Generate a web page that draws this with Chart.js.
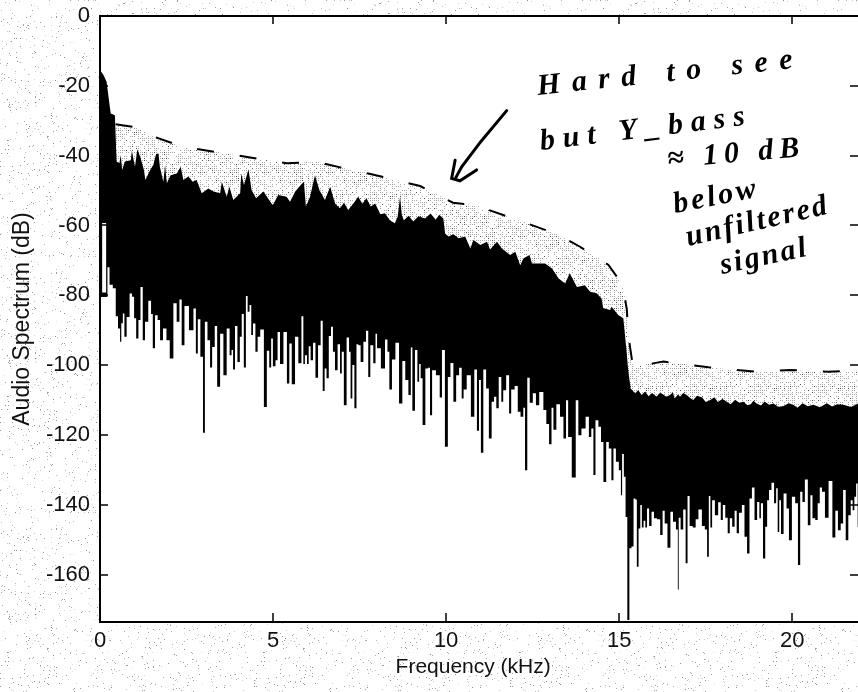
<!DOCTYPE html>
<html><head><meta charset="utf-8">
<style>html,body{margin:0;padding:0;background:#fff}canvas{display:block}</style>
<script src="https://cdn.jsdelivr.net/npm/chart.js@4"></script></head>
<body><div style="width:858px;height:692px"><canvas id="c" width="858" height="692"></canvas></div>
<script>
const xTicks=[0,5,10,15,20];
const yTicks=[0,-20,-40,-60,-80,-100,-120,-140,-160];
const xRange=[0,21.9];
const yRange=[-173.6,0];

// dashed outline: unfiltered signal
const dashFreq=[0.45,1,1.4,2.4,3.9,5.4,6.26,7.0,7.75,9.25,10.2,10.84,12.28,13.2,13.87,14.69,15.1,15.22,15.27,15.4,16.28,17.58,18.93,19.94,21.05,21.9];
const dashDb=[-31,-31.8,-34,-37.5,-39.8,-42.2,-41.8,-43.5,-45.1,-48.7,-53.5,-54.2,-59.2,-62.5,-66.1,-71.3,-77,-84,-92,-100.5,-99,-100.6,-101.9,-101.4,-101.9,-101.6];

// upper edge of the black spectrum
const topFreq=[0,0.10,0.19,0.27,0.31,0.43,0.48,0.56,0.60,0.64,0.72,0.89,0.92,1.01,1.08,1.16,1.27,1.31,1.45,1.54,1.62,1.69,1.73,1.83,1.88,1.93,2.04,2.22,2.33,2.41,2.55,2.68,2.79,2.94,3.13,3.28,3.47,3.52,3.66,3.74,3.85,4.05,4.08,4.16,4.29,4.38,4.51,4.72,4.99,5.15,5.39,5.49,5.64,5.80,5.89,5.95,6.07,6.21,6.34,6.50,6.65,6.79,6.93,7.05,7.17,7.3,7.46,7.58,7.70,7.82,7.95,8.1,8.23,8.38,8.52,8.60,8.67,8.72,8.78,8.92,9.05,9.2,9.39,9.55,9.7,9.8,9.92,9.97,10.07,10.21,10.36,10.55,10.70,10.79,10.99,11.18,11.27,11.47,11.61,11.85,12.0,12.14,12.24,12.41,12.48,12.67,12.86,13.06,13.25,13.44,13.57,13.78,14.01,14.16,14.35,14.49,14.54,14.74,14.78,14.98,15.12,15.2,15.26,15.33,15.46,15.55,15.65,15.75,15.85,15.95,16.08,16.18,16.25,16.36,16.47,16.55,16.6,16.7,16.76,16.85,16.95,17.05,17.14,17.25,17.4,17.5,17.63,17.75,17.85,17.98,18.11,18.22,18.35,18.47,18.59,18.7,18.8,18.88,18.97,19.1,19.2,19.33,19.46,19.6,19.75,19.9,20.03,20.15,20.3,20.45,20.61,20.8,21.0,21.15,21.3,21.48,21.7,21.9];
const topDb=[-15.5,-16.9,-18.8,-25,-27.9,-28.4,-41.7,-42.2,-39.8,-44.1,-41.7,-41.3,-38.6,-43.2,-38.2,-40.3,-44.1,-47,-44.1,-42.7,-39.5,-39.4,-43.2,-47.5,-42.7,-47.9,-45.6,-45.1,-43.2,-47,-46,-47.5,-47,-50.8,-49.4,-50.3,-50.8,-47.5,-51.8,-48.9,-52.7,-50.8,-45.1,-48.4,-43.9,-49.9,-52.2,-50.3,-54.2,-51.3,-51.8,-53.2,-50.3,-48.4,-47.5,-54.6,-51.8,-45.6,-49.9,-52.7,-48.9,-53.7,-55.1,-53.5,-55.6,-54,-51.8,-53.8,-52.2,-54.6,-53.7,-56.8,-56.5,-58.6,-59.4,-57.5,-51.8,-57,-58.5,-57.2,-58.9,-57.4,-58,-56.6,-58.4,-56.9,-58,-62.3,-63.2,-62.5,-63.7,-63.2,-66.6,-64.2,-65.6,-64.7,-66.9,-64.7,-66.6,-68.5,-67.5,-71.4,-69.4,-68.5,-70.9,-70.9,-70.9,-72.3,-75.2,-76.6,-73.7,-77.6,-77.1,-79,-79.4,-80.9,-83.7,-84.2,-83.3,-85.7,-86.6,-94.7,-101.4,-106.7,-108.1,-107.2,-108.6,-107.6,-108.9,-108,-109.1,-107.9,-108.3,-109.1,-108.6,-107.8,-109.6,-108.4,-109.1,-108,-108.6,-109.4,-110,-108.8,-109.3,-110.6,-110,-109.2,-110.6,-109.7,-110.5,-111.2,-109.9,-110.8,-110.5,-111.5,-111.2,-110.2,-111,-111.6,-110.4,-111.4,-111,-112,-111.7,-110.9,-111.4,-112.2,-110.9,-111.8,-111.4,-112.1,-110.9,-111.9,-111.2,-111.4,-112,-111];

// lower edge of the black spectrum, spikes included
const lowFreq=[0,0.19,0.24,0.31,0.43,0.48,0.56,0.60,0.63,0.69,0.72,0.82,0.89,0.96,1.01,1.08,1.14,1.20,1.27,1.33,1.46,1.49,1.56,1.62,1.71,1.76,1.88,1.96,2.07,2.17,2.26,2.33,2.39,2.49,2.65,2.75,2.79,2.86,2.94,3.01,3.05,3.16,3.20,3.28,3.35,3.42,3.52,3.61,3.71,3.78,3.82,3.87,3.93,4.01,4.07,4.12,4.19,4.24,4.29,4.35,4.39,4.45,4.53,4.58,4.68,4.79,4.85,4.93,4.96,5.03,5.11,5.15,5.25,5.35,5.45,5.49,5.59,5.68,5.78,
5.86,5.89,5.95,6.01,6.05,6.12,6.19,6.26,6.34,6.41,6.46,6.52,6.57,6.65,6.70,6.76,6.82,6.91,6.96,7.01,7.08,7.17,7.22,7.26,7.32,7.38,7.44,7.49,7.57,7.65,7.72,7.78,7.84,7.95,7.97,8.04,8.19,8.28,8.33,8.39,8.48,8.59,8.69,8.78,8.86,8.96,9.00,9.05,9.15,9.19,9.25,9.28,9.36,9.44,9.51,9.56,9.63,9.78,9.85,9.91,10.02,10.08,10.17,10.25,10.33,10.42,10.48,10.53,10.66,10.77,10.86,10.92,10.98,11.03,11.12,11.19,11.28,11.35,11.42,11.48,11.56,11.63,11.67,11.80,11.84,11.92,12.04,12.10,12.20,12.26,12.30,12.39,12.44,12.57,12.62,12.76,12.86,12.93,13.02,13.07,13.13,13.24,13.34,13.44,13.49,13.56,13.70,13.79,13.85,13.97,14.09,14.16,14.23,14.28,14.35,14.45,14.50,14.59,14.66,14.74,14.81,14.86,14.95,15.03,15.07,15.10,15.17,
15.20,15.27,15.32,15.39,15.44,15.49,15.53,15.59,15.63,15.68,15.73,15.78,15.83,15.90,15.97,16.04,16.14,16.23,16.28,16.35,16.44,16.52,16.59,16.69,16.70,16.74,16.81,16.89,16.95,17.00,17.07,17.18,17.24,17.34,17.44,17.51,17.57,17.61,17.66,17.71,17.82,17.90,17.97,18.02,18.11,18.16,18.23,18.30,18.37,18.42,18.50,18.59,18.65,18.74,18.79,18.88,18.94,19.03,19.07,19.12,19.19,19.25,19.30,19.36,19.44,19.51,19.56,19.60,19.65,19.70,19.80,19.87,19.94,20.04,20.13,20.20,20.26,20.33,20.40,20.50,20.55,20.62,20.71,20.76,20.83,20.89,21.00,21.10,21.22,21.27,21.37,21.43,21.51,21.58,21.66,21.72,21.77,21.82,21.87,21.91];
const lowDb=[-80.5,-80.5,-72,-77,-78,-86,-89.5,-93.3,-88,-85.2,-91.9,-86.2,-79.5,-80.4,-86.6,-92.4,-87.1,-77.6,-92.9,-87.6,-81.6,-85.4,-95.2,-85.7,-87.1,-92.9,-89.5,-92.9,-98.1,-82.3,-87.6,-81.2,-94.3,-83.1,-90,-83.8,-96.7,-86.9,-97.6,-119.4,-87.6,-92.9,-100.7,-94.8,-88.8,-106.2,-91,-102.9,-89.5,-97.2,-95.7,-101.3,-88.8,-99.1,-91.9,-85.4,-100.7,-80.2,-84.7,-82.8,-91.4,-88.1,-96.2,-91.9,-89.8,-112,-95.9,-100.7,-92.4,-100.3,-98.6,-90.5,-99.7,-90.5,-105.3,-93.8,-105.5,-91.9,-99.5,
-86,-99.7,-97.2,-99.7,-94.6,-98.6,-93.6,-103.6,-94.3,-87.3,-107.4,-101,-103.8,-91.7,-89,-96.2,-101.5,-94,-102.4,-96.2,-111.5,-92.1,-96.2,-109.6,-100,-112.4,-94,-94.3,-99.1,-93.3,-90.2,-103.4,-94.3,-99.5,-91,-95.2,-101,-92.7,-96.2,-107,-98.4,-93.6,-111,-98.8,-104.3,-108.6,-95,-113.1,-95.7,-104.8,-99.7,-103.8,-117.2,-101,-100.8,-114.4,-101.5,-102.9,-109.3,-95.7,-123.4,-103.4,-99.4,-110.5,-102.9,-100.8,-109.6,-107,-102.9,-114.8,-101.3,-118.8,-104.3,-125.1,-101.3,-106.7,-121,-110.5,-109.1,-112.4,-103.4,-110.5,-107.2,-102.9,-113.9,-107,-106,-113.4,-114.8,-112.2,-130.1,-103.6,-110.8,-108.1,-111.5,-107.7,-112.9,-116.9,-122.7,-112.2,-118.5,-111.2,-114.8,-121,-110.1,-120.6,-132.2,-110.1,-120.1,-118.2,-114.8,-120.6,-118.2,-131.5,-115.8,-117.7,-122,-133.5,-122,-123.9,-133,-123.9,-127.7,-130.1,-137.3,-125.5,-132,
-143.5,-173,-152.5,-152,-138.2,-138.5,-157.8,-146.8,-140.1,-146.5,-144.6,-146.5,-141.1,-146.1,-142,-143.9,-144.2,-148.7,-141.7,-145.4,-152.3,-142,-144.9,-147.1,-164.3,-143.7,-147.1,-141.4,-156.8,-137.5,-146.1,-146.5,-144.2,-141.4,-146.1,-147.1,-154.9,-137.5,-146.5,-138.7,-143,-139.3,-144.4,-140.1,-143.7,-148.2,-143.9,-146.3,-141.7,-148.2,-142.3,-140.1,-149.2,-154,-138.2,-135.1,-144.4,-139.2,-143.9,-139.6,-155.4,-146.3,-138.7,-135.8,-133.7,-139.6,-135.3,-147.8,-138.7,-148.4,-136.8,-141.1,-150.2,-137.7,-139.6,-157.3,-136.3,-139.2,-132.8,-145.9,-137.3,-143.9,-144.4,-139.6,-135.1,-136.3,-143.7,-133.2,-149.4,-141.7,-147.3,-145.4,-135.8,-150.2,-143,-138.7,-141.6,-137.7,-133.9,-146.3];

// white sliver beside the axis
const slitFreq=[0.12,0.12];
const slitDb=[-59.3,-79.2];

// hand-drawn arrow (null breaks the stroke)
const arrowFreq=[11.75,11.0,10.45,10.28,10.26,10.26,10.16,10.4,10.88];
const arrowDb=[-27.1,-36,-43.2,-46.3,null,-41.3,-46.5,-47.2,-44.1];

// handwritten note
const noteLines=["Hard to see","but Y_bass","≈ 10 dB","below","unfiltered","signal"];

const zip=(a,b)=>a.map((x,i)=>({x,y:b[i]}));
function tile(size,paint){const c=document.createElement('canvas');c.width=c.height=size;paint(c.getContext('2d'),size);return c;}
function lcg(seed){let s=seed;return()=>{s=(s*1103515245+12345)&0x7fffffff;return s/0x7fffffff;};}
const speckTile=tile(256,(g,n)=>{g.fillStyle='#fff';g.fillRect(0,0,n,n);const r=lcg(7);
  for(let i=0;i<1700;i++){const v=140+Math.floor(r()*90);g.fillStyle=`rgb(${v},${v},${v})`;g.fillRect(Math.floor(r()*n),Math.floor(r()*n),1,1);}});
const ditherTile=tile(64,(g,n)=>{g.fillStyle='#fff';g.fillRect(0,0,n,n);const r=lcg(11);
  for(let y=0;y<n;y+=2)for(let x=0;x<n;x+=2){const v=r();if(v<0.55){const t=v<0.06?80:165;g.fillStyle=`rgb(${t},${t},${t})`;g.fillRect(x,y,1,1);}}});
const ctx0=document.getElementById('c').getContext('2d');
const ditherFill=ctx0.createPattern(ditherTile,'repeat');

const frame={id:'frame',
  beforeDraw(ch){const g=ch.ctx,a=ch.chartArea;g.save();g.fillStyle=g.createPattern(speckTile,'repeat');g.fillRect(0,0,ch.width,ch.height);
    g.fillStyle='#fff';g.fillRect(a.left,a.top,a.right-a.left,a.bottom-a.top);g.restore();},
  afterDraw(ch){const g=ch.ctx,a=ch.chartArea,xs=ch.scales.x,ys=ch.scales.y;g.save();g.strokeStyle='#000';g.lineWidth=2;
    g.beginPath();g.moveTo(a.left,a.top);g.lineTo(a.right,a.top);g.moveTo(a.left,a.top-1);g.lineTo(a.left,a.bottom+1);g.moveTo(a.left,a.bottom);g.lineTo(a.right,a.bottom);g.stroke();
    g.lineWidth=1.5;g.beginPath();
    yTicks.forEach(v=>{const p=Math.round(ys.getPixelForValue(v));g.moveTo(a.left,p);g.lineTo(a.left+8,p);g.moveTo(a.right,p);g.lineTo(a.right-8,p);});
    xTicks.forEach(v=>{const p=Math.round(xs.getPixelForValue(v));g.moveTo(p,a.bottom);g.lineTo(p,a.bottom-9);g.moveTo(p,a.top);g.lineTo(p,a.top+8);});
    g.stroke();
    const place=[[538,95,-6,11.5],[541,150,-7,8],[668,168,-5,6],[675,213,-11,3],[688,246,-13,2.5],[722,274,-12,2.5]];
    g.fillStyle='#000';g.font='italic bold 30px "Liberation Serif"';g.textAlign='left';g.textBaseline='alphabetic';
    noteLines.forEach((t,i)=>{const q=place[i];g.save();g.translate(q[0],q[1]);g.rotate(q[2]*Math.PI/180);g.letterSpacing=q[3]+'px';g.fillText(t,0,0);g.restore();});
    g.restore();}};

new Chart(document.getElementById('c'),{
  type:'line',
  data:{datasets:[
    {label:'Unfiltered',data:zip(dashFreq,dashDb),borderColor:'#000',borderWidth:2,borderDash:[17,26],backgroundColor:ditherFill,fill:'start',order:5},
    {label:'Y_bass upper',data:zip(topFreq,topDb),borderWidth:0,borderColor:'#000',backgroundColor:'#000',fill:'start',order:4},
    {label:'Y_bass lower',data:zip(lowFreq,lowDb),stepped:'middle',borderWidth:0,borderColor:'#fff',backgroundColor:'#fff',fill:'start',order:3},
    {label:'Sliver',data:zip(slitFreq,slitDb),borderColor:'#fff',borderWidth:4,fill:false,order:2},
    {label:'Arrow',data:zip(arrowFreq,arrowDb),borderColor:'#000',borderWidth:3,fill:false,spanGaps:false,order:1,borderCapStyle:'round'}
  ]},
  options:{responsive:false,animation:false,devicePixelRatio:1,
    layout:{padding:{top:16,right:0,left:0,bottom:0}},
    elements:{point:{radius:0},line:{tension:0}},
    plugins:{legend:{display:false},tooltip:{enabled:false}},
    scales:{
      x:{type:'linear',min:xRange[0],max:xRange[1],
        afterBuildTicks:s=>{s.ticks=xTicks.map(v=>({value:v}));},
        afterFit:s=>{s.height=70;s.paddingLeft=0;s.paddingRight=0;},
        grid:{display:false,drawTicks:false,tickLength:0},border:{display:false},
        ticks:{color:'#111',maxRotation:0,padding:6,font:{family:'"Liberation Sans"',size:22},callback:v=>String(v)},
        title:{display:true,text:'Frequency (kHz)  ',color:'#111',font:{family:'"Liberation Sans"',size:21},padding:{top:2,bottom:12}}},
      y:{type:'linear',min:yRange[0],max:yRange[1],
        afterBuildTicks:s=>{s.ticks=yTicks.map(v=>({value:v}));},
        afterFit:s=>{s.width=100;s.paddingTop=0;s.paddingBottom=0;},
        grid:{display:false,drawTicks:false,tickLength:0},border:{display:false},
        ticks:{color:'#111',padding:10,font:{family:'"Liberation Sans"',size:22},callback:v=>String(v)},
        title:{display:true,text:'Audio Spectrum (dB)',color:'#111',font:{family:'"Liberation Sans"',size:23},padding:{top:9,bottom:0}}}
    }},
  plugins:[frame]
});
</script></body></html>
